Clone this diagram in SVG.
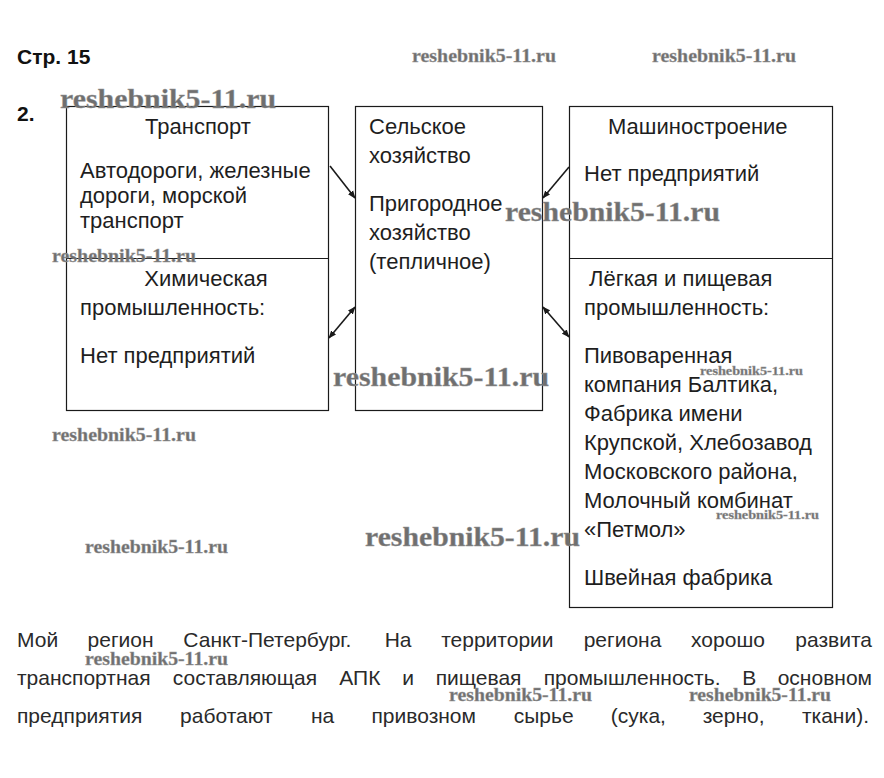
<svg xmlns="http://www.w3.org/2000/svg" width="884" height="778" viewBox="0 0 884 778">
<style>
.t{font-family:"Liberation Sans",Arial,sans-serif;font-size:22px;fill:#1e1e1e}
.p{font-family:"Liberation Sans",Arial,sans-serif;font-size:21px;fill:#2a2a2a}
.h{font-family:"Liberation Sans",Arial,sans-serif;font-size:21px;font-weight:bold;fill:#111}
.box{fill:#fff;stroke:#1a1a1a;stroke-width:1.2}
.ln{stroke:#1a1a1a;stroke-width:1.2}
.w{font-family:"Liberation Serif","DejaVu Serif",serif;font-weight:bold;fill:#6f6f6f;stroke:#9a9a9a;stroke-width:0.4}
.c{stroke:#1a1a1a;stroke-width:1.6;fill:none}
</style>
<defs>
<marker id="ah" viewBox="0 0 10 10" refX="9" refY="5" markerWidth="8" markerHeight="8" orient="auto-start-reverse" markerUnits="userSpaceOnUse">
<path d="M0,1 L10,5 L0,9 z" fill="#1a1a1a"/>
</marker>
</defs>
<rect width="884" height="778" fill="#fff"/>
<text class="h" x="17" y="64">Стр. 15</text>
<text class="h" x="17" y="121">2.</text>

<g id="node-left">
<rect class="box" x="66.5" y="106.5" width="262" height="304"/>
<line class="ln" x1="66.5" y1="258.5" x2="328.5" y2="258.5"/>
<text class="t" x="198" y="134" text-anchor="middle">Транспорт</text>
<text class="t" x="80" y="178">Автодороги, железные</text>
<text class="t" x="80" y="203">дороги, морской</text>
<text class="t" x="80" y="228">транспорт</text>
<text class="t" x="206" y="286" text-anchor="middle">Химическая</text>
<text class="t" x="80" y="315">промышленность:</text>
<text class="t" x="80" y="363">Нет предприятий</text>
</g>

<g id="node-center">
<rect class="box" x="355.5" y="106.5" width="187" height="304"/>
<text class="t" x="369" y="134">Сельское</text>
<text class="t" x="369" y="163">хозяйство</text>
<text class="t" x="369" y="211">Пригородное</text>
<text class="t" x="369" y="240">хозяйство</text>
<text class="t" x="369" y="269">(тепличное)</text>
</g>

<g id="node-right">
<rect class="box" x="569.5" y="106.5" width="263" height="501"/>
<line class="ln" x1="569.5" y1="258.5" x2="832.5" y2="258.5"/>
<text class="t" x="608" y="134">Машиностроение</text>
<text class="t" x="584" y="181">Нет предприятий</text>
<text class="t" x="589" y="286">Лёгкая и пищевая</text>
<text class="t" x="584" y="315">промышленность:</text>
<text class="t" x="584" y="363">Пивоваренная</text>
<text class="t" x="584" y="392">компания Балтика,</text>
<text class="t" x="584" y="421">Фабрика имени</text>
<text class="t" x="584" y="450">Крупской, Хлебозавод</text>
<text class="t" x="584" y="479">Московского района,</text>
<text class="t" x="584" y="508">Молочный комбинат</text>
<text class="t" x="584" y="537">«Петмол»</text>
<text class="t" x="584" y="585">Швейная фабрика</text>
</g>

<g id="connectors">
<line class="c" x1="330" y1="166" x2="355" y2="198" marker-end="url(#ah)"/>
<line class="c" x1="569" y1="167" x2="543" y2="198" marker-end="url(#ah)"/>
<line class="c" x1="329" y1="338" x2="355" y2="307" marker-start="url(#ah)" marker-end="url(#ah)"/>
<line class="c" x1="543" y1="307" x2="569" y2="337" marker-start="url(#ah)" marker-end="url(#ah)"/>
</g>

<g id="paragraph">
<text class="p" y="647"><tspan x="17">Мой</tspan><tspan x="87.6">регион</tspan><tspan x="183.3">Санкт-Петербург.</tspan><tspan x="384.7">На</tspan><tspan x="441.2">территории</tspan><tspan x="583.7">региона</tspan><tspan x="691.1">хорошо</tspan></text>
<text class="p" x="872" y="647" text-anchor="end">развита</text>
<text class="p" y="685"><tspan x="17">транспортная</tspan><tspan x="172.8">составляющая</tspan><tspan x="339.3">АПК</tspan><tspan x="402.3">и</tspan><tspan x="435.7">пищевая</tspan><tspan x="543.7">промышленность.</tspan><tspan x="742.2">В</tspan></text>
<text class="p" x="872" y="685" text-anchor="end">основном</text>
<text class="p" y="723"><tspan x="17">предприятия</tspan><tspan x="180.1">работают</tspan><tspan x="311">на</tspan><tspan x="371.5">привозном</tspan><tspan x="513.7">сырье</tspan><tspan x="610.8">(сука,</tspan><tspan x="702.7">зерно,</tspan></text>
<text class="p" x="869" y="723" text-anchor="end">ткани).</text>
</g>

<g id="watermarks">
<text class="w" x="412" y="62" font-size="19" textLength="144" lengthAdjust="spacingAndGlyphs">reshebnik5-11.ru</text>
<text class="w" x="652" y="62" font-size="19" textLength="144" lengthAdjust="spacingAndGlyphs">reshebnik5-11.ru</text>
<text class="w" x="60" y="108" font-size="28" textLength="216" lengthAdjust="spacingAndGlyphs">reshebnik5-11.ru</text>
<text class="w" x="52" y="262" font-size="19" textLength="144" lengthAdjust="spacingAndGlyphs">reshebnik5-11.ru</text>
<text class="w" x="505" y="221" font-size="28" textLength="215" lengthAdjust="spacingAndGlyphs">reshebnik5-11.ru</text>
<text class="w" x="333" y="386" font-size="28" textLength="216" lengthAdjust="spacingAndGlyphs">reshebnik5-11.ru</text>
<text class="w" x="700" y="375" font-size="13" textLength="103" lengthAdjust="spacingAndGlyphs">reshebnik5-11.ru</text>
<text class="w" x="52" y="441" font-size="19" textLength="144" lengthAdjust="spacingAndGlyphs">reshebnik5-11.ru</text>
<text class="w" x="716" y="519" font-size="13" textLength="103" lengthAdjust="spacingAndGlyphs">reshebnik5-11.ru</text>
<text class="w" x="85" y="553" font-size="19" textLength="143" lengthAdjust="spacingAndGlyphs">reshebnik5-11.ru</text>
<text class="w" x="365" y="546" font-size="28" textLength="215" lengthAdjust="spacingAndGlyphs">reshebnik5-11.ru</text>
<text class="w" x="85" y="665" font-size="19" textLength="143" lengthAdjust="spacingAndGlyphs">reshebnik5-11.ru</text>
<text class="w" x="449" y="701" font-size="19" textLength="143" lengthAdjust="spacingAndGlyphs">reshebnik5-11.ru</text>
<text class="w" x="689" y="701" font-size="19" textLength="142" lengthAdjust="spacingAndGlyphs">reshebnik5-11.ru</text>
</g>
</svg>
